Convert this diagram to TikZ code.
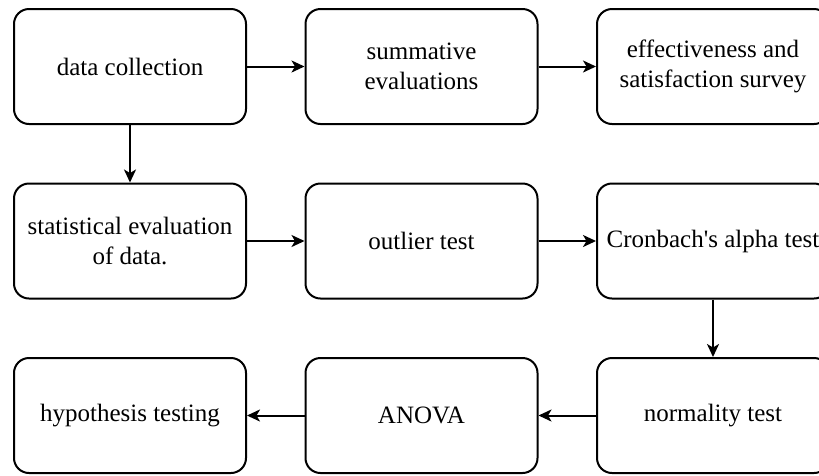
\documentclass[tikz,border=0pt]{standalone}
\usepackage{fontspec}
\setmainfont{Liberation Serif}[Ligatures=TeXOff]
\usetikzlibrary{arrows.meta}
\begin{document}
\begin{tikzpicture}[x=1pt,y=-1pt,
  stepbox/.style={draw, line width=2pt, rounded corners=15pt, minimum width=232pt, minimum height=115pt, inner sep=0pt, align=center, font=\fontsize{25}{30}\selectfont},
  flow/.style={line width=2pt, -{Stealth[length=13pt,width=12pt,inset=3.5pt]}}]
\useasboundingbox (0,0) rectangle (819,475);
\clip (0,0) rectangle (819,475);
\node[stepbox] (dc) at (130,66.5) {data collection};
\node[stepbox] (se) at (421.5,66.5) {summative\\evaluations};
\node[stepbox] (es) at (713,66.5) {effectiveness and\\satisfaction survey};
\node[stepbox] (st) at (130,241) {statistical evaluation\\of data.};
\node[stepbox] (ot) at (421.5,241) {outlier test};
\node[stepbox] (cr) at (713,241) {Cronbach's alpha test};
\node[stepbox] (ht) at (130,415.5) {hypothesis testing};
\node[stepbox] (an) at (421.5,415.5) {ANOVA};
\node[stepbox] (nt) at (713,415.5) {normality test};
\draw[flow] (dc) -- (se);
\draw[flow] (se) -- (es);
\draw[flow] (dc) -- (st);
\draw[flow] (st) -- (ot);
\draw[flow] (ot) -- (cr);
\draw[flow] (cr) -- (nt);
\draw[flow] (nt) -- (an);
\draw[flow] (an) -- (ht);
\end{tikzpicture}
\end{document}
